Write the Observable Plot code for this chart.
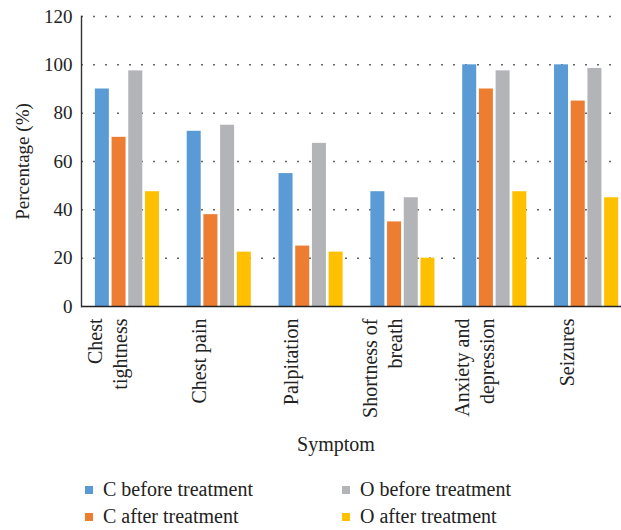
<!DOCTYPE html>
<html><head><meta charset="utf-8">
<script src="https://cdn.jsdelivr.net/npm/d3@7"></script>
<script src="https://cdn.jsdelivr.net/npm/@observablehq/plot@0.6"></script>
<style>
body{margin:0;background:#fff;font-family:"Liberation Serif","Times New Roman",serif;}
#wrap{position:relative;width:621px;height:530px;overflow:hidden;}
#xlabel{position:absolute;left:336px;top:433px;transform:translateX(-50%);font-size:20px;color:#222;line-height:22px;}
#legend{position:absolute;left:85px;top:479px;display:grid;grid-template-columns:257px 260px;row-gap:6px;font-size:20px;color:#222;line-height:21px;}
.item{display:flex;align-items:center;white-space:nowrap;}
.sw{width:8px;height:8px;margin-right:10px;flex:none;}
</style></head>
<body><div id="wrap"><div id="chart"></div><div id="xlabel">Symptom</div><div id="legend"></div></div>
<script>
const symptoms = ["Chest\ntightness", "Chest pain", "Palpitation", "Shortness of\nbreath", "Anxiety and\ndepression", "Seizures"];
const seriesNames = ["C before treatment", "C after treatment", "O before treatment", "O after treatment"];
const cBefore = [90, 72.5, 55, 47.5, 100, 100];
const cAfter = [70, 38, 25, 35, 90, 85];
const oBefore = [97.5, 75, 67.5, 45, 97.5, 98.5];
const oAfter = [47.5, 22.5, 22.5, 20, 47.5, 45];
const yTicks = [0, 20, 40, 60, 80, 100, 120];
const colors = ["#5b9bd5", "#ed7d31", "#b3b4b7", "#ffc000"];

const seriesValues = [cBefore, cAfter, oBefore, oAfter];
const barStep = 16.7;
const bars = seriesValues.map((vals, i) =>
  Plot.barY(symptoms.map((s, j) => ({symptom: s, value: vals[j], series: seriesNames[i]})), {
    x: "symptom", y: "value", fill: colors[i], dx: (i - 1.5) * barStep
  })
);

const serif = '"Liberation Serif", "Times New Roman", serif';
const chart = Plot.plot({
  width: 621, height: 462,
  marginLeft: 81, marginRight: -11, marginTop: 16, marginBottom: 156,
  style: {fontFamily: serif, fontSize: "19px", color: "#222", background: "transparent"},
  x: {domain: symptoms, paddingInner: 0.8475, paddingOuter: 0.42375, round: false, axis: null},
  y: {domain: [0, 120], axis: null},
  marks: [
    Plot.gridY(yTicks.filter(t => t > 0), {stroke: "#666", strokeOpacity: 1, strokeDasharray: "2,10", strokeWidth: 1.5}),
    ...bars,
    Plot.ruleY([0], {stroke: "#222", strokeWidth: 1.6}),
    Plot.frame({anchor: "left", stroke: "#333", strokeWidth: 1.4}),
    Plot.axisY(yTicks, {tickSize: 0, tickPadding: 9, fontSize: 19, fontFamily: serif, label: "Percentage (%)", labelAnchor: "center", labelOffset: 66, labelArrow: "none"}),
    Plot.axisX({tickSize: 0, tickPadding: 12, tickRotate: -90, fontSize: 20, fontFamily: serif, lineHeight: 1.25, label: null, dx: -21})
  ]
});
document.getElementById("chart").appendChild(chart);

const legend = document.getElementById("legend");
const order = [0, 2, 1, 3];
order.forEach(i => {
  const it = document.createElement("div");
  it.className = "item";
  it.innerHTML = `<span class="sw" style="background:${colors[i]}"></span><span>${seriesNames[i]}</span>`;
  legend.appendChild(it);
});
</script>
</body></html>
